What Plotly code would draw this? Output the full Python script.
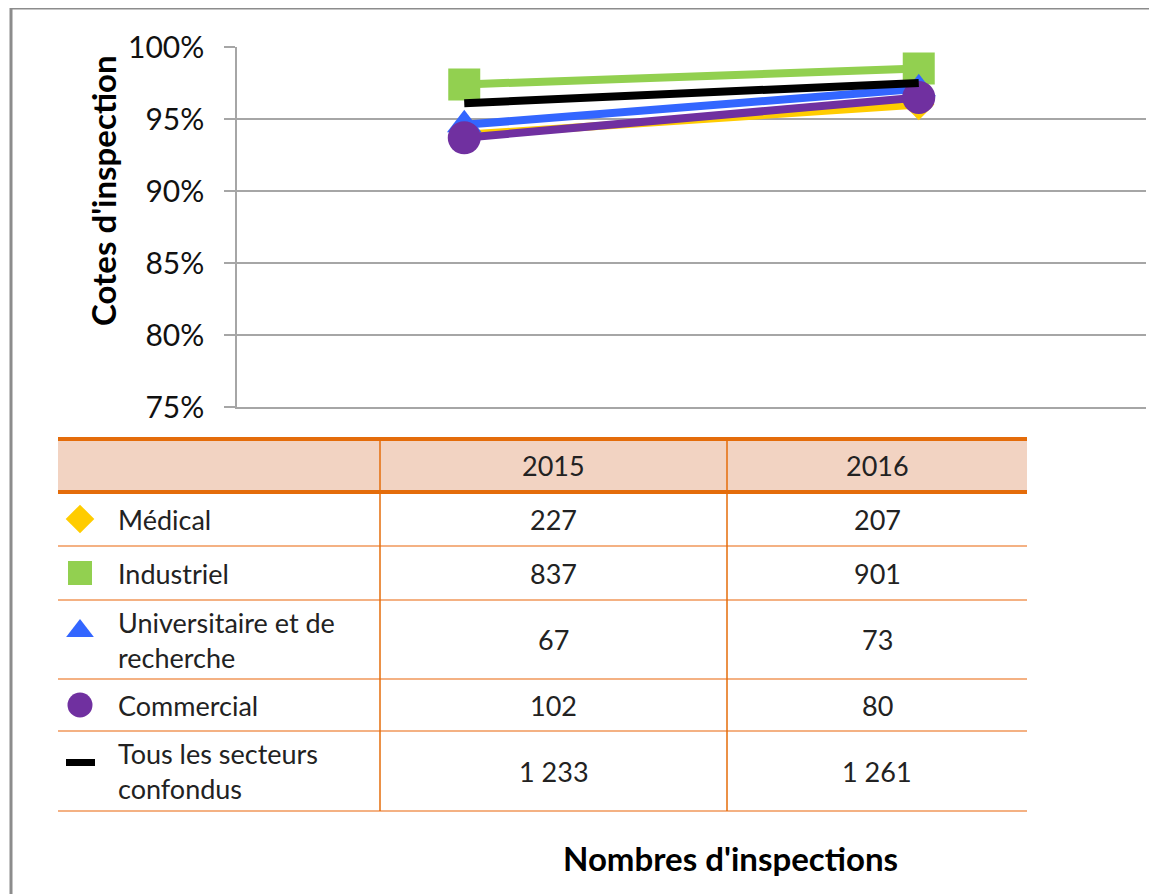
import plotly.graph_objects as go

# ---------------- data ----------------
years = ["2015", "2016"]
sectors = ["Médical", "Industriel", "Universitaire et de<br>recherche", "Commercial",
           "Tous les secteurs<br>confondus"]
rate_medical = [0.939, 0.960]
rate_industriel = [0.974, 0.985]
rate_universitaire = [0.946, 0.971]
rate_commercial = [0.937, 0.965]
rate_tous = [0.961, 0.975]
count_2015 = [227, 837, 67, 102, 1233]
count_2016 = [207, 901, 73, 80, 1261]

y_ticks = [0.75, 0.80, 0.85, 0.90, 0.95, 1.00]

# ---------------- styles ----------------
FONT = "Lato"
W, H = 1157, 894
OFF = 8  # page body margin
colors = ["#FFCC00", "#92D050", "#3366FF", "#7030A0", "#000000"]
symbols = ["diamond", "square", "triangle-up", "circle", None]
msizes = [24, 32, 30, 33, 0]

series = [rate_medical, rate_industriel, rate_universitaire, rate_commercial, rate_tous]

fig = go.Figure()
for i, vals in enumerate(series):
    if symbols[i] is None:
        fig.add_trace(go.Scatter(x=years, y=vals, mode="lines",
                                 line=dict(color=colors[i], width=8), showlegend=False))
    else:
        fig.add_trace(go.Scatter(x=years, y=vals, mode="lines+markers",
                                 line=dict(color=colors[i], width=8),
                                 marker=dict(symbol=symbols[i], size=msizes[i], color=colors[i]),
                                 showlegend=False))

# ---------------- table (pixel-space axes covering the figure) ----------------
col_edges = [58, 380, 727, 1027]
row_edges = [439, 492, 546, 600, 679, 731, 811]
orange = "#E46C0A"
light_orange = "#F4B183"
shapes = []
shapes.append(dict(type="rect", xref="x2", yref="y2", x0=col_edges[0], x1=col_edges[-1],
                   y0=row_edges[0], y1=row_edges[1], fillcolor="#F2D3C2", line=dict(width=0),
                   layer="below"))
for k, yv in enumerate(row_edges):
    if k in (0, 1):
        shapes.append(dict(type="line", xref="x2", yref="y2", x0=col_edges[0], x1=col_edges[-1],
                           y0=yv, y1=yv, line=dict(color=orange, width=4)))
    else:
        shapes.append(dict(type="line", xref="x2", yref="y2", x0=col_edges[0], x1=col_edges[-1],
                           y0=yv, y1=yv, line=dict(color=light_orange, width=2)))
for xv in col_edges[1:3]:
    shapes.append(dict(type="line", xref="x2", yref="y2", x0=xv, x1=xv,
                       y0=row_edges[0], y1=row_edges[-1], line=dict(color=orange, width=1.5)))
shapes.append(dict(type="rect", xref="x2", yref="y2", x0=11, x1=1180, y0=8, y1=920,
                   line=dict(color="#8C8C8C", width=3)))

annotations = []
col_centers = [(col_edges[1] + col_edges[2]) / 2, (col_edges[2] + col_edges[3]) / 2]
hdr_y = (row_edges[0] + row_edges[1]) / 2
TXT = dict(family=FONT, size=27, color="#222")
for j, yr in enumerate(years):
    annotations.append(dict(x=col_centers[j], y=hdr_y, xref="x2", yref="y2", text=yr,
                            showarrow=False, font=TXT))

def fmt(n):
    return f"{n:,}".replace(",", " ")

leg_sizes = [22, 24, 24, 25]
for i, name in enumerate(sectors):
    yc = (row_edges[i + 1] + row_edges[i + 2]) / 2
    annotations.append(dict(x=116, y=yc, xref="x2", yref="y2", text=name, showarrow=False,
                            xanchor="left", align="left", font=TXT))
    annotations.append(dict(x=col_centers[0], y=yc, xref="x2", yref="y2", text=fmt(count_2015[i]),
                            showarrow=False, font=TXT))
    annotations.append(dict(x=col_centers[1], y=yc, xref="x2", yref="y2", text=fmt(count_2016[i]),
                            showarrow=False, font=TXT))
    if symbols[i] is not None:
        ym = yc if i != 2 else row_edges[i + 1] + 31
        fig.add_trace(go.Scatter(x=[80], y=[ym], xaxis="x2", yaxis="y2", mode="markers",
                                 marker=dict(symbol=symbols[i], size=leg_sizes[i], color=colors[i]),
                                 showlegend=False, hoverinfo="skip"))
    else:
        shapes.append(dict(type="rect", xref="x2", yref="y2", x0=66, x1=95, y0=yc - 12, y1=yc - 5,
                           fillcolor=colors[i], line=dict(width=0)))

annotations.append(dict(x=103, y=191, xref="x2", yref="y2", text="<b>Cotes d'inspection</b>",
                        textangle=-90, showarrow=False,
                        font=dict(family=FONT, size=33, color="#000")))
annotations.append(dict(x=730, y=858, xref="x2", yref="y2", text="<b>Nombres d'inspections</b>",
                        showarrow=False, font=dict(family=FONT, size=33, color="#000")))

fig.update_layout(
    width=W, height=H, margin=dict(l=0, r=0, t=0, b=0, autoexpand=False),
    paper_bgcolor="white", plot_bgcolor="rgba(0,0,0,0)",
    xaxis=dict(domain=[(237 - OFF) / W, (1146 - OFF) / W], type="category", range=[-0.5, 1.5],
               showticklabels=False, showgrid=False, showline=True, linecolor="#A6A6A6",
               linewidth=1.5, ticks="", zeroline=False),
    yaxis=dict(domain=[1 - (407 - OFF) / H, 1 - (47 - OFF) / H], range=[0.75, 1.0],
               tickvals=y_ticks,
               tickformat=".0%", showgrid=True, gridcolor="#A6A6A6", gridwidth=1.5,
               showline=True, linecolor="#A6A6A6", linewidth=1.5, ticks="outside", ticklen=11,
               tickcolor="#A6A6A6", tickwidth=1.5, ticklabelstandoff=14,
               tickfont=dict(family=FONT, size=30, color="#111"), zeroline=False),
    xaxis2=dict(domain=[0, 1], range=[OFF, W + OFF], visible=False, anchor="y2"),
    yaxis2=dict(domain=[0, 1], range=[H + OFF, OFF], visible=False, anchor="x2"),
    shapes=shapes, annotations=annotations,
)

fig.write_html("out.html")
